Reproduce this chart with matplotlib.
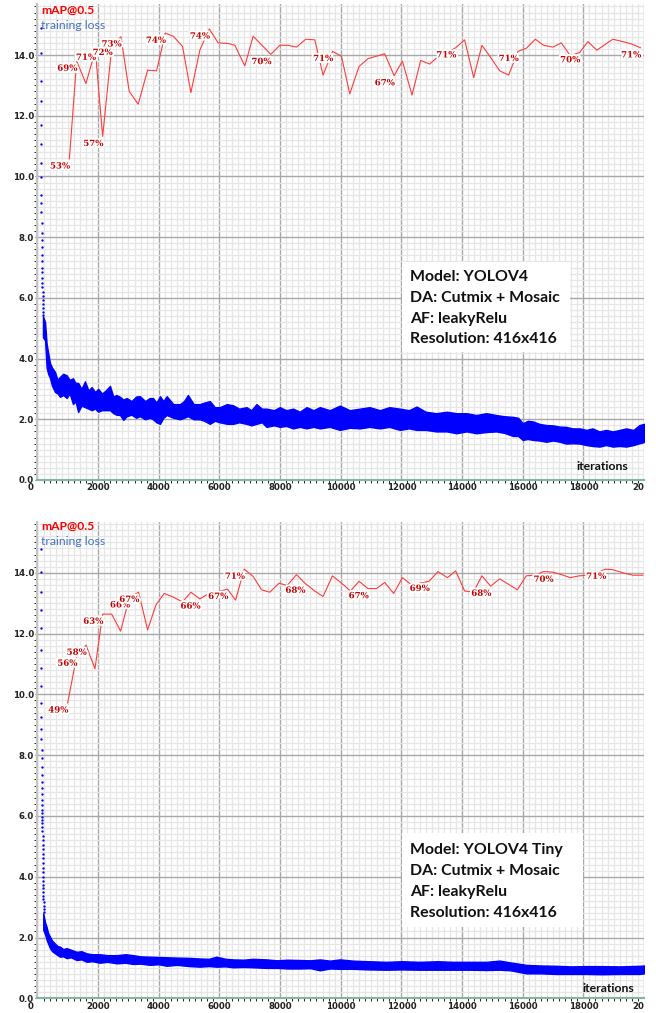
import matplotlib
matplotlib.use("Agg")
import matplotlib.pyplot as plt
import matplotlib.patheffects as pe
import matplotlib.transforms as mtransforms
from matplotlib.patches import Rectangle
from matplotlib.ticker import MultipleLocator

# ---- top chart: YOLOV4 ----
v4_map_iter = [1051, 1292, 1598, 1908, 2148, 2455, 2751, 3025, 3321, 3631, 3928, 4214, 4475, 4784,
               5058, 5354, 5664, 5957, 6287, 6508, 6837, 7111, 7694, 7990, 8264, 8541, 8847, 9144,
               9417, 9727, 10023, 10297, 10603, 10900, 11177, 11450, 11760, 12033, 12350, 12636,
               12933, 13219, 13506, 13790, 14086, 14383, 14656, 14943, 15240, 15536, 15846, 16119,
               16416, 16689, 16996, 17272, 17569, 17875, 18149, 18445, 18709, 18973, 19302, 19598, 19885]
v4_map = [52.9, 69.0, 65.3, 70.8, 56.6, 71.6, 73.0, 64.0, 61.9, 67.5, 67.4, 73.6, 73.1, 71.4,
          63.8, 70.8, 74.3, 72.0, 71.9, 71.6, 68.2, 73.1, 70.1, 71.6, 71.6, 71.3, 72.6, 72.5,
          66.7, 70.6, 69.8, 63.6, 68.1, 69.4, 69.8, 70.2, 66.6, 69.0, 63.4, 69.1,
          68.5, 69.8, 70.4, 71.2, 72.5, 66.3, 71.6, 69.6, 67.4, 66.7, 70.6, 71.1,
          72.6, 71.6, 71.3, 72.0, 69.9, 70.4, 72.2, 70.8, 71.7, 72.6, 72.2, 71.8, 71.2]
v4_labeled = [0, 1, 3, 4, 5, 6, 11, 16, 22, 29, 36, 43, 50, 57, 64]

v4_loss_iter = [180, 250, 300, 350, 412, 480, 577, 660, 741, 850, 960, 1060, 1170, 1250, 1340, 1450,
                1565, 1680, 1785, 1900, 2000, 2130, 2250, 2390, 2500, 2600, 2720, 2830, 2940, 3100,
                3250, 3380, 3550, 3700, 3810, 3920, 4040, 4150, 4260, 4480, 4700, 4830, 4960, 5150,
                5350, 5500, 5680, 5850, 6010, 6250, 6450, 6650, 6890, 7050, 7220, 7400, 7550, 7800,
                7990, 8200, 8430, 8650, 8870, 9100, 9310, 9640, 9970, 10300, 10630, 10950, 11290,
                11600, 11950, 12250, 12500, 12800, 13150, 13500, 13810, 14150, 14470, 14800, 15130,
                15400, 15680, 15850, 16000, 16170, 16340, 16550, 16780, 17000, 17220, 17430, 17650,
                17880, 18100, 18300, 18530, 18750, 18970, 19200, 19410, 19650, 19850, 20000]
v4_loss_lo = [4.7, 4.6, 3.7, 3.5, 3.36, 3.1, 2.9, 2.85, 2.74, 2.8, 2.7, 2.85, 2.5, 2.6, 2.24, 2.45,
              2.4, 2.35, 2.3, 2.35, 2.25, 2.3, 2.3, 2.3, 2.2, 2.15, 2.14, 1.98, 2.1, 2.15,
              2.05, 2.1, 2.0, 2.05, 2.0, 1.9, 1.85, 2.05, 2.14, 2.05, 2.0, 2.05, 2.1, 2.0,
              2.0, 1.95, 1.85, 1.95, 1.9, 1.85, 1.85, 1.9, 1.85, 1.8, 1.85, 1.9, 1.75, 1.8,
              1.75, 1.78, 1.7, 1.75, 1.7, 1.75, 1.7, 1.75, 1.65, 1.72, 1.7, 1.75, 1.7,
              1.75, 1.65, 1.7, 1.65, 1.65, 1.6, 1.6, 1.54, 1.6, 1.54, 1.58, 1.6,
              1.55, 1.45, 1.45, 1.32, 1.35, 1.32, 1.3, 1.26, 1.3, 1.26, 1.2, 1.21,
              1.2, 1.15, 1.12, 1.1, 1.15, 1.1, 1.12, 1.1, 1.15, 1.21, 1.25]
v4_loss_hi = [5.4, 5.2, 4.5, 4.2, 3.85, 3.7, 3.56, 3.3, 3.4, 3.5, 3.45, 3.3, 3.35, 3.2, 3.2, 3.0,
              3.25, 2.95, 3.06, 2.9, 3.0, 2.85, 2.95, 3.1, 2.75, 2.8, 2.74, 2.65, 2.7, 2.6,
              2.75, 2.76, 2.6, 2.7, 2.7, 2.55, 2.76, 2.6, 2.76, 2.5, 2.5, 2.6, 2.8, 2.5,
              2.5, 2.55, 2.6, 2.4, 2.4, 2.5, 2.46, 2.35, 2.4, 2.3, 2.5, 2.35, 2.35, 2.3,
              2.4, 2.3, 2.35, 2.25, 2.4, 2.3, 2.4, 2.3, 2.45, 2.3, 2.35, 2.4, 2.3,
              2.4, 2.35, 2.3, 2.42, 2.25, 2.2, 2.25, 2.2, 2.2, 2.14, 2.2, 2.14,
              2.1, 2.08, 2.05, 1.87, 1.95, 1.93, 1.85, 1.81, 1.8, 1.76, 1.75, 1.7,
              1.7, 1.65, 1.7, 1.6, 1.65, 1.6, 1.65, 1.7, 1.65, 1.81, 1.85]

# first iterations: loss still falling fast, drawn as single dots
v4_dot_iter = [100, 103, 106, 109, 112, 115, 118, 121, 124, 127, 130, 133, 136, 139, 142,
               145, 148, 151, 154, 157, 160, 163, 166, 169, 172, 175, 178, 181, 184]
v4_dot_loss = [14.9, 14.06, 13.14, 12.5, 11.7, 11.07, 10.44, 9.98, 9.39, 9.12, 8.83, 8.46, 8.14, 7.9,
               7.67, 7.4, 7.2, 7.0, 6.85, 6.65, 6.49, 6.36, 6.2, 6.06, 5.93, 5.8, 5.68, 5.55, 5.45]

v4_info = ["Model: YOLOV4", "DA: Cutmix + Mosaic", "AF: leakyRelu", "Resolution: 416x416"]

# ---- bottom chart: YOLOV4 Tiny ----
tiny_map_iter = [995, 1292, 1601, 1895, 2148, 2445, 2741, 3028, 3335, 3631, 3905, 4178, 4475, 4784,
                 5058, 5354, 5651, 5947, 6267, 6531, 6817, 7111, 7387, 7661, 7967, 8231, 8541, 8814,
                 9144, 9417, 9727, 10023, 10320, 10603, 10900, 11177, 11450, 11747, 12033, 12330,
                 12626, 12913, 13206, 13516, 13790, 14086, 14373, 14656, 14943, 15240, 15536, 15822,
                 16119, 16402, 16689, 16996, 17272, 17569, 17875, 18162, 18445, 18732, 18973, 19302,
                 19632, 19961]
tiny_map = [48.6, 56.3, 58.1, 54.2, 63.2, 63.2, 60.4, 65.9, 66.8, 60.6, 64.7, 66.6, 66.0, 65.2,
            66.8, 65.7, 66.6, 66.9, 67.3, 65.5, 70.6, 69.4, 67.2, 66.8, 68.3, 67.9, 69.7, 68.3,
            67.0, 66.1, 69.5, 68.3, 67.0, 68.6, 67.4, 67.4, 68.4, 66.6, 69.2, 68.0,
            68.3, 68.6, 70.2, 69.2, 70.3, 67.0, 66.8, 69.5, 67.8, 69.0, 68.1, 67.2,
            69.5, 69.6, 70.2, 70.1, 69.7, 69.2, 69.5, 69.6, 70.0, 70.6, 70.5, 70.0,
            69.6, 69.6]
tiny_labeled = [0, 1, 2, 4, 7, 8, 15, 18, 20, 27, 34, 41, 48, 55, 61]

tiny_loss_iter = [190, 250, 300, 350, 410, 480, 577, 660, 740, 850, 960, 1100, 1290, 1450, 1620,
                  1800, 2060, 2300, 2610, 2900, 3150, 3400, 3700, 4000, 4260, 4600, 5000, 5350,
                  5650, 5900, 6200, 6450, 6800, 7100, 7550, 7900, 8250, 8650, 9000, 9310, 9640,
                  9970, 10400, 10900, 11510, 12000, 12600, 13200, 13700, 14300, 14800, 15240,
                  15600, 16120, 16600, 17100, 17600, 18100, 18600, 19200, 19850, 20000]
tiny_loss_lo = [2.25, 2.1, 1.92, 1.8, 1.65, 1.55, 1.48, 1.42, 1.37, 1.38, 1.32, 1.35, 1.26, 1.28, 1.2,
                1.22, 1.17, 1.2, 1.15, 1.17, 1.13, 1.14, 1.1, 1.12, 1.07, 1.1, 1.06, 1.04,
                1.06, 1.04, 1.05, 1.02, 1.03, 1.02, 1.0, 1.0, 0.98, 0.98, 0.99, 0.92, 0.98,
                0.97, 0.97, 0.95, 0.94, 0.95, 0.94, 0.94, 0.94, 0.94, 0.93, 0.94,
                0.92, 0.82, 0.82, 0.8, 0.8, 0.8, 0.79, 0.8, 0.8, 0.82]
tiny_loss_hi = [2.8, 2.5, 2.35, 2.15, 2.03, 1.9, 1.8, 1.72, 1.7, 1.62, 1.65, 1.6, 1.53, 1.55, 1.48,
                1.45, 1.45, 1.42, 1.42, 1.45, 1.42, 1.38, 1.37, 1.36, 1.35, 1.34, 1.33, 1.31,
                1.3, 1.37, 1.3, 1.28, 1.27, 1.3, 1.28, 1.25, 1.27, 1.26, 1.25, 1.28, 1.24,
                1.28, 1.24, 1.22, 1.2, 1.22, 1.2, 1.22, 1.2, 1.2, 1.2, 1.24,
                1.18, 1.1, 1.08, 1.07, 1.05, 1.06, 1.06, 1.05, 1.07, 1.08]

tiny_dot_iter = [110, 112, 114, 116, 118, 120, 122, 124, 126, 128, 130, 132, 134, 136, 138, 140,
                 142, 144, 146, 148, 150, 152, 154, 156, 158, 160, 162, 164, 166, 168, 170, 172,
                 174, 176, 178, 180, 182, 184, 186, 188, 190, 192, 194, 196, 198, 200, 202, 204]
tiny_dot_loss = [14.77, 14.03, 13.37, 12.77, 12.17, 11.46, 10.86, 10.28, 9.7, 9.26, 8.86, 8.52,
                 8.16, 7.89, 7.62, 7.35, 7.13, 6.91, 6.72, 6.52, 6.36, 6.2, 6.09, 5.97, 5.87,
                 5.76, 5.64, 5.5, 5.35, 5.2, 5.05, 4.9, 4.75, 4.6, 4.45, 4.3, 4.15, 4.0, 3.87,
                 3.74, 3.62, 3.5, 3.38, 3.27, 3.16, 3.05, 2.95, 2.85]

tiny_info = ["Model: YOLOV4 Tiny", "DA: Cutmix + Mosaic", "AF: leakyRelu", "Resolution: 416x416"]

MAX_ITER = 20000
Y_TOP = 15.68
MAP_SCALE = 20.0   # darknet draws mAP on the loss scale: 100% -> 20.0

fig = plt.figure(figsize=(6.56, 10.13), dpi=100)


def draw_panel(ax, map_iter, map_pct, labeled, loss_iter, loss_lo, loss_hi,
               dot_iter, dot_loss, info, box, text_y, iter_pos, legend_y):
    ax.set_xlim(0, MAX_ITER)
    ax.set_ylim(0, Y_TOP)
    ax.xaxis.set_major_locator(MultipleLocator(2000))
    ax.xaxis.set_minor_locator(MultipleLocator(200))
    ax.yaxis.set_major_locator(MultipleLocator(2.0))
    ax.yaxis.set_minor_locator(MultipleLocator(0.2))
    ax.grid(which="minor", color="#e6e6e6", lw=0.9, zorder=0)
    ax.grid(which="major", color="#a8a8a8", lw=1.0, zorder=0)
    ax.set_axisbelow(True)

    for s in ["top", "right"]:
        ax.spines[s].set_visible(False)
    ax.spines["left"].set_color("#c4c4c4")
    ax.spines["left"].set_linewidth(1.5)
    ax.spines["bottom"].set_color("#7fb89a")
    ax.spines["bottom"].set_linewidth(1.5)

    xt = list(range(0, MAX_ITER + 1, 2000))
    ax.set_xticks(xt)
    ax.set_xticklabels(["0"] + [str(v) for v in xt[1:-1]] + ["20"])
    ax.set_yticks([v * 2.0 for v in range(8)])
    ax.set_yticklabels(["%.1f" % (v * 2.0) for v in range(8)])
    ax.tick_params(axis="x", length=0, pad=2.5, labelsize=6.2, labelcolor="#222222")
    ax.tick_params(axis="y", length=1.5, pad=1, labelsize=6.2, labelcolor="#222222",
                   color="#555555")
    for lab in ax.get_xticklabels() + ax.get_yticklabels():
        lab.set_fontweight("bold")
    xl = ax.get_xticklabels()
    xl[0].set_ha("right")
    xl[0].set_transform(xl[0].get_transform() +
                        mtransforms.ScaledTranslation(-4 / 100, 0, fig.dpi_scale_trans))
    xl[-1].set_ha("right")

    # training loss
    ax.fill_between(loss_iter, loss_lo, loss_hi, color="#0000ff", lw=1.0,
                    edgecolor="#0000ff", zorder=2)
    ax.plot(dot_iter, dot_loss, "o", ms=1.7, mew=0, color="#0000ff", zorder=2)

    # mAP curve
    map_y = [p / 100 * MAP_SCALE for p in map_pct]
    ax.plot(map_iter, map_y, color="#ff3c3c", lw=0.8, zorder=3)
    for i in labeled:
        ax.annotate("%d%%" % round(map_pct[i]), (map_iter[i], map_y[i]),
                    xytext=(-19.4, -9.7), textcoords="offset pixels",
                    ha="left", va="baseline", fontsize=6.2, fontweight="bold",
                    family="DejaVu Serif", color="#c80000", zorder=5,
                    path_effects=[pe.withStroke(linewidth=2.8, foreground="white")])

    # legend text
    ax.text(0.006, legend_y[0], "mAP@0.5", transform=ax.transAxes, color="#ff0000",
            fontsize=8.7, fontweight="bold", family="Lato", va="center", ha="left", zorder=6)
    ax.text(0.006, legend_y[1], "training loss", transform=ax.transAxes, color="#4472c4",
            fontsize=8.8, family="Lato", va="center", ha="left", zorder=6)

    # info box
    ax.add_patch(Rectangle((box[0], box[1]), box[2], box[3], transform=ax.transAxes,
                           facecolor="white", edgecolor="none", zorder=7))
    for line, yy in zip(info, text_y):
        ax.text(box[0] + 0.014, yy, line, transform=ax.transAxes, fontsize=11.4,
                fontweight="bold", family="Lato", color="#111111", va="center",
                ha="left", zorder=8)

    ax.text(iter_pos[0], iter_pos[1], "iterations", transform=ax.transAxes,
            fontsize=8.8, fontweight="bold", family="Lato", color="#111111",
            va="center", ha="left", zorder=6)


ax1 = fig.add_axes([0.05716, 0.52616, 0.92454, 0.46989])
draw_panel(ax1, v4_map_iter, v4_map, v4_labeled, v4_loss_iter, v4_loss_lo, v4_loss_hi,
           v4_dot_iter, v4_dot_loss, v4_info,
           box=(0.601, 0.269, 0.277, 0.189),
           text_y=(0.427, 0.382, 0.338, 0.296),
           iter_pos=(0.889, 0.028), legend_y=(0.987, 0.954))

ax2 = fig.add_axes([0.05716, 0.01451, 0.92454, 0.47048])
draw_panel(ax2, tiny_map_iter, tiny_map, tiny_labeled, tiny_loss_iter, tiny_loss_lo, tiny_loss_hi,
           tiny_dot_iter, tiny_dot_loss, tiny_info,
           box=(0.601, 0.150, 0.298, 0.197),
           text_y=(0.311, 0.268, 0.224, 0.180),
           iter_pos=(0.899, 0.0216), legend_y=(0.990, 0.958))

fig.savefig("out.png", dpi=100)
